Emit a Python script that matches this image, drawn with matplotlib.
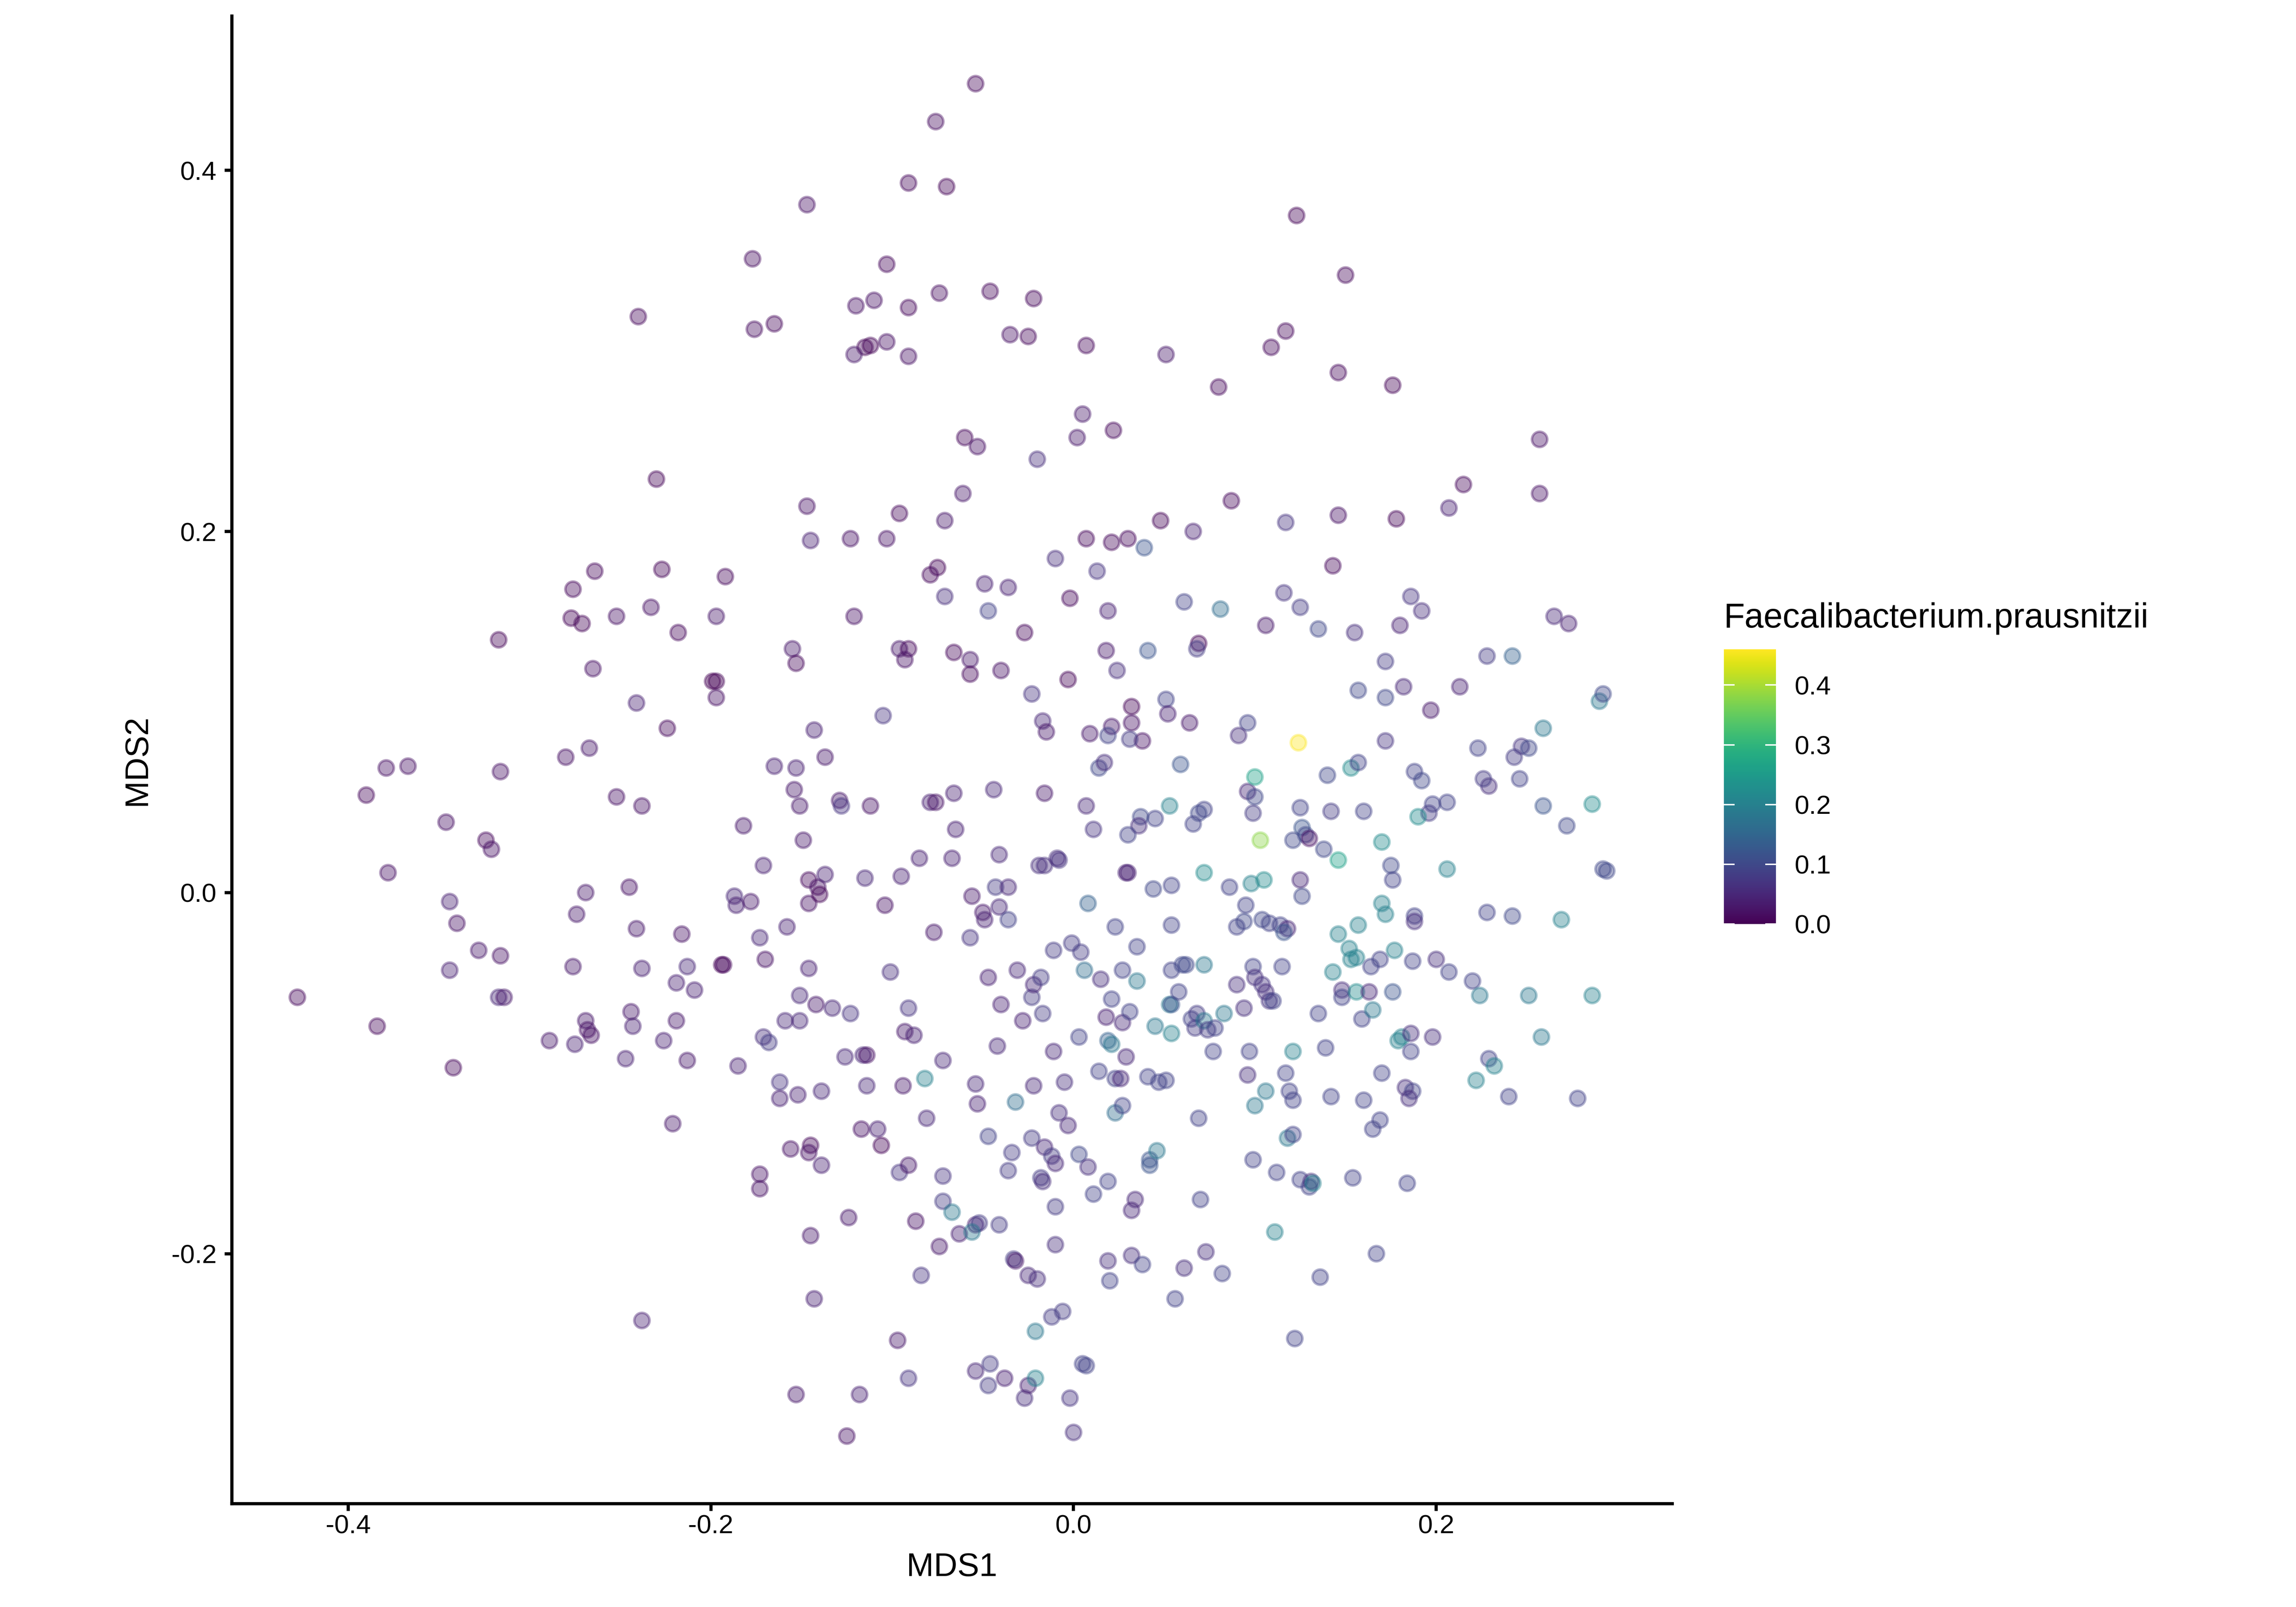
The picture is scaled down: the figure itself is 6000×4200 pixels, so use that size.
import matplotlib
matplotlib.use("Agg")
import matplotlib.pyplot as plt
import numpy as np
from matplotlib.colors import Normalize

plt.rcParams['font.family'] = ['Liberation Sans', 'DejaVu Sans']
plt.rcParams['axes.unicode_minus'] = False

mds1 = [
 -0.054,-0.076,-0.091,-0.070,-0.147,0.123,-0.103,-0.177,0.150,-0.046,
 -0.074,-0.110,-0.022,-0.120,-0.091,-0.240,-0.165,-0.176,0.117,0.109,
 -0.035,-0.025,-0.103,-0.112,-0.115,0.007,-0.121,-0.091,0.051,0.146,
 0.176,0.080,0.005,0.022,0.002,-0.060,-0.053,0.257,-0.020,0.215,
 0.257,-0.230,-0.061,0.087,-0.147,0.207,0.146,-0.096,-0.071,0.048,
 0.178,0.117,0.066,0.007,0.030,-0.145,-0.123,-0.103,0.021,0.039,
 -0.264,-0.227,-0.192,-0.075,-0.079,0.013,-0.010,-0.049,-0.036,0.143,
 -0.276,-0.277,-0.271,-0.252,-0.233,-0.197,-0.071,-0.002,0.019,-0.047,
 0.061,0.081,0.116,0.125,0.106,0.135,0.186,0.192,0.180,0.155,
 -0.121,-0.218,-0.317,-0.155,-0.153,-0.096,-0.091,-0.066,-0.057,-0.057,
 -0.093,-0.027,-0.040,0.018,0.041,0.024,0.069,0.068,0.172,0.228,
 0.242,0.265,0.273,0.157,0.172,0.182,0.213,0.197,-0.265,-0.241,
 -0.197,-0.197,-0.199,-0.105,-0.023,-0.003,0.051,0.052,0.032,0.032,
 0.021,-0.017,-0.015,0.019,0.038,0.031,0.064,0.096,0.091,0.124,
 0.140,0.153,0.157,0.172,0.188,0.192,0.223,0.229,0.226,0.247,
 0.243,0.246,0.251,0.259,0.290,0.292,0.286,0.272,0.259,0.292,
 0.294,0.269,0.228,0.242,0.206,0.206,0.198,0.196,0.190,0.170,
 0.175,0.176,0.170,0.160,0.142,0.125,0.126,0.128,0.130,0.121,
 0.138,0.146,0.125,0.126,0.096,0.100,0.100,0.099,0.103,0.086,
 0.098,0.105,0.072,0.095,0.104,0.114,0.118,0.116,0.094,0.053,
 0.059,0.072,0.069,0.066,0.045,0.037,0.036,0.030,0.011,-0.008,
 -0.016,0.029,0.044,0.009,0.014,0.017,
 -0.428,-0.384,-0.390,-0.379,-0.367,-0.378,-0.346,-0.344,-0.340,-0.344,
 -0.342,-0.324,-0.321,-0.316,-0.328,-0.316,-0.317,-0.314,-0.289,-0.280,
 -0.267,-0.269,-0.274,-0.276,-0.275,-0.269,-0.268,-0.266,-0.252,-0.238,
 -0.245,-0.241,-0.238,-0.244,-0.243,-0.247,-0.224,-0.226,-0.221,-0.238,
 -0.219,-0.219,-0.216,-0.213,-0.209,-0.213,-0.194,-0.193,-0.187,-0.186,
 -0.185,-0.182,-0.178,-0.173,-0.171,-0.171,-0.170,-0.173,-0.173,-0.168,
 -0.165,-0.162,-0.162,-0.158,-0.159,-0.156,-0.154,-0.153,-0.151,-0.149,
 -0.151,-0.151,-0.152,-0.153,-0.146,-0.146,-0.146,-0.145,-0.146,-0.145,
 -0.143,-0.143,-0.141,-0.140,-0.142,-0.139,-0.139,-0.137,-0.137,-0.133,
 -0.129,-0.128,-0.126,-0.125,-0.123,-0.124,-0.118,-0.117,-0.116,-0.114,
 -0.115,-0.114,-0.112,-0.108,-0.106,-0.104,-0.101,-0.097,-0.096,-0.095,
 -0.094,-0.093,-0.091,-0.091,-0.091,-0.088,-0.087,-0.085,-0.084,-0.081,
 -0.079,-0.076,-0.077,-0.074,-0.072,-0.072,-0.072,-0.082,-0.067,-0.067,
 -0.066,-0.065,-0.063,-0.057,-0.056,-0.054,-0.053,-0.054,-0.052,-0.056,
 -0.054,-0.050,-0.049,-0.047,-0.047,-0.046,-0.047,-0.044,-0.043,-0.042,
 -0.041,-0.041,-0.040,-0.041,-0.038,-0.036,-0.036,-0.036,-0.034,-0.033,
 -0.032,-0.032,-0.031,-0.028,-0.027,-0.025,-0.025,-0.023,-0.023,-0.022,
 -0.022,-0.021,-0.020,-0.021,-0.019,-0.018,-0.018,-0.017,-0.017,-0.016,
 -0.016,-0.012,-0.012,-0.011,-0.011,-0.010,-0.010,-0.010,-0.009,-0.008,
 -0.006,-0.005,-0.003,-0.002,-0.001,0.000,0.003,0.004,0.006,0.005,
 0.007,0.007,0.003,0.008,0.008,0.011,0.014,0.015,0.018,0.019,
 0.019,0.019,0.020,0.021,0.021,0.023,0.023,0.023,0.026,0.027,
 0.027,0.027,0.029,0.030,0.031,0.032,0.032,0.034,0.035,0.035,
 0.038,0.041,0.042,0.042,0.046,0.047,0.045,0.051,0.053,0.054,
 0.054,0.054,0.054,0.054,0.056,0.058,0.060,0.062,0.061,0.065,
 0.068,0.067,0.069,0.070,0.072,0.072,0.073,0.074,0.077,0.078,
 0.082,0.083,0.090,0.090,0.094,0.096,0.097,0.099,0.099,0.100,
 0.100,0.104,0.106,0.106,0.108,0.110,0.108,0.111,0.112,0.115,
 0.117,0.118,0.119,0.121,0.121,0.121,0.122,0.125,0.130,0.131,
 0.132,0.135,0.136,0.139,0.142,0.143,0.146,0.148,0.148,0.152,
 0.153,0.154,0.156,0.156,0.157,0.159,0.160,0.163,0.164,0.165,
 0.165,0.167,0.169,0.169,0.170,0.172,0.176,0.177,0.179,0.181,
 0.183,0.184,0.186,0.186,0.187,0.185,0.187,0.188,0.188,0.198,
 0.200,0.207,0.220,0.222,0.224,0.229,0.232,0.240,0.251,0.258,
 0.278,0.286,
]

mds2 = [
 0.448,0.427,0.393,0.391,0.381,0.375,0.348,0.351,0.342,0.333,
 0.332,0.328,0.329,0.325,0.324,0.319,0.315,0.312,0.311,0.302,
 0.309,0.308,0.305,0.303,0.302,0.303,0.298,0.297,0.298,0.288,
 0.281,0.280,0.265,0.256,0.252,0.252,0.247,0.251,0.240,0.226,
 0.221,0.229,0.221,0.217,0.214,0.213,0.209,0.210,0.206,0.206,
 0.207,0.205,0.200,0.196,0.196,0.195,0.196,0.196,0.194,0.191,
 0.178,0.179,0.175,0.180,0.176,0.178,0.185,0.171,0.169,0.181,
 0.168,0.152,0.149,0.153,0.158,0.153,0.164,0.163,0.156,0.156,
 0.161,0.157,0.166,0.158,0.148,0.146,0.164,0.156,0.148,0.144,
 0.153,0.144,0.140,0.135,0.127,0.135,0.135,0.133,0.129,0.121,
 0.129,0.144,0.123,0.134,0.134,0.123,0.138,0.135,0.128,0.131,
 0.131,0.153,0.149,0.112,0.108,0.114,0.114,0.101,0.124,0.105,
 0.117,0.108,0.117,0.098,0.110,0.118,0.107,0.099,0.103,0.094,
 0.092,0.095,0.089,0.087,0.084,0.085,0.094,0.094,0.087,0.083,
 0.065,0.069,0.072,0.084,0.067,0.062,0.080,0.059,0.063,0.081,
 0.075,0.063,0.080,0.091,0.106,0.110,0.049,0.037,0.048,0.013,
 0.012,-0.015,-0.011,-0.013,0.013,0.050,0.049,0.044,0.042,0.028,
 0.015,0.007,-0.006,0.045,0.045,0.047,0.036,0.032,0.030,0.029,
 0.024,0.018,0.007,-0.002,0.056,0.053,0.064,0.044,0.029,0.003,
 0.005,0.007,0.011,-0.007,-0.015,-0.018,-0.020,-0.022,-0.016,0.048,
 0.071,0.046,0.044,0.038,0.041,0.042,0.037,0.032,0.035,0.018,
 0.015,0.011,0.002,0.088,0.069,0.072,
 -0.058,-0.074,0.054,0.069,0.070,0.011,0.039,-0.005,-0.017,-0.043,
 -0.097,0.029,0.024,0.067,-0.032,-0.035,-0.058,-0.058,-0.082,0.075,
 0.080,0.000,-0.012,-0.041,-0.084,-0.071,-0.076,-0.079,0.053,0.048,
 0.003,-0.020,-0.042,-0.066,-0.074,-0.092,0.091,-0.082,-0.128,-0.237,
 -0.050,-0.071,-0.023,-0.041,-0.054,-0.093,-0.040,-0.040,-0.002,-0.007,
 -0.096,0.037,-0.005,-0.025,0.015,-0.080,-0.037,-0.156,-0.164,-0.083,
 0.070,-0.105,-0.114,-0.019,-0.071,-0.142,0.057,0.069,0.048,0.029,
 -0.057,-0.071,-0.112,-0.278,-0.042,-0.006,0.007,-0.140,-0.144,-0.190,
 -0.225,0.090,0.003,-0.001,-0.062,-0.110,-0.151,0.075,0.010,-0.064,
 0.051,0.048,-0.091,-0.301,-0.067,-0.180,-0.278,-0.131,-0.090,-0.090,
 0.008,-0.107,0.048,-0.131,-0.140,-0.007,-0.044,-0.248,-0.155,0.009,
 -0.107,-0.077,-0.064,-0.151,-0.269,-0.079,-0.182,0.019,-0.212,-0.125,
 0.050,0.050,-0.022,-0.196,-0.093,-0.157,-0.171,-0.103,0.019,-0.177,
 0.055,0.035,-0.189,-0.025,-0.002,-0.106,-0.117,-0.184,-0.183,-0.188,
 -0.265,-0.011,-0.015,-0.047,-0.135,-0.261,-0.273,0.057,0.003,-0.085,
 0.021,-0.008,-0.062,-0.184,-0.269,0.003,-0.154,-0.015,-0.144,-0.203,
 -0.204,-0.116,-0.043,-0.071,-0.280,-0.273,-0.212,-0.058,-0.136,-0.107,
 -0.051,-0.269,-0.214,-0.243,0.015,-0.158,-0.047,-0.067,-0.160,-0.141,
 0.055,-0.146,-0.235,-0.032,-0.088,-0.195,-0.150,-0.174,0.019,-0.122,
 -0.232,-0.105,-0.129,-0.280,-0.028,-0.299,-0.145,-0.033,-0.043,-0.261,
 -0.262,0.048,-0.080,-0.152,-0.006,-0.167,-0.099,-0.048,-0.069,-0.204,
 -0.082,-0.160,-0.215,-0.084,-0.059,-0.019,-0.103,-0.122,-0.103,-0.072,
 -0.118,-0.043,-0.091,0.011,-0.066,-0.176,-0.201,-0.170,-0.049,-0.030,
 -0.206,-0.102,-0.151,-0.148,-0.143,-0.105,-0.074,-0.104,-0.062,-0.078,
 -0.062,-0.043,0.004,-0.018,-0.225,-0.055,-0.040,-0.040,-0.208,-0.070,
 -0.067,-0.075,-0.125,-0.170,-0.040,-0.071,-0.199,-0.076,-0.088,-0.075,
 -0.211,-0.067,-0.019,-0.051,-0.064,-0.101,-0.088,-0.041,-0.148,-0.047,
 -0.118,-0.051,-0.055,-0.110,-0.060,-0.060,-0.017,-0.188,-0.155,-0.041,
 -0.100,-0.136,-0.110,-0.115,-0.088,-0.134,-0.247,-0.159,-0.163,-0.160,
 -0.161,-0.067,-0.213,-0.086,-0.113,-0.044,-0.023,-0.054,-0.058,-0.031,
 -0.037,-0.158,-0.055,-0.036,-0.018,-0.070,-0.115,-0.055,-0.041,-0.065,
 -0.131,-0.200,-0.037,-0.126,-0.100,-0.012,-0.055,-0.032,-0.082,-0.080,
 -0.108,-0.161,-0.078,-0.088,-0.110,-0.114,-0.038,-0.013,-0.016,-0.080,
 -0.037,-0.044,-0.049,-0.104,-0.057,-0.092,-0.096,-0.113,-0.057,-0.080,
 -0.114,-0.057,
]

f_prausnitzii = [
 0.010,0.015,0.010,0.005,0.020,0.005,0.010,0.015,0.010,0.010,
 0.015,0.020,0.010,0.020,0.010,0.010,0.010,0.015,0.010,0.010,
 0.020,0.010,0.020,0.005,0.005,0.010,0.030,0.020,0.030,0.010,
 0.005,0.010,0.030,0.010,0.030,0.010,0.020,0.020,0.060,0.010,
 0.020,0.005,0.030,0.010,0.020,0.040,0.020,0.010,0.030,0.005,
 0.005,0.070,0.040,0.010,0.010,0.040,0.020,0.020,0.010,0.120,
 0.010,0.005,0.010,0.005,0.010,0.070,0.060,0.040,0.040,0.010,
 0.010,0.005,0.005,0.020,0.020,0.030,0.060,0.010,0.040,0.090,
 0.090,0.160,0.070,0.080,0.030,0.100,0.070,0.060,0.040,0.060,
 0.020,0.010,0.005,0.030,0.010,0.030,0.010,0.010,0.030,0.010,
 0.020,0.010,0.020,0.030,0.120,0.060,0.005,0.080,0.080,0.080,
 0.140,0.050,0.040,0.100,0.100,0.050,0.040,0.030,0.020,0.040,
 0.005,0.020,0.000,0.070,0.070,0.005,0.090,0.040,0.005,0.020,
 0.030,0.050,0.030,0.090,0.020,0.080,0.030,0.090,0.060,0.460,
 0.100,0.220,0.090,0.070,0.090,0.100,0.090,0.060,0.080,0.070,
 0.080,0.090,0.100,0.180,0.180,0.100,0.220,0.100,0.120,0.100,
 0.100,0.200,0.090,0.100,0.200,0.090,0.090,0.080,0.220,0.220,
 0.100,0.090,0.200,0.090,0.080,0.090,0.120,0.100,0.020,0.100,
 0.100,0.260,0.050,0.100,0.050,0.100,0.260,0.080,0.380,0.090,
 0.200,0.220,0.220,0.090,0.100,0.090,0.050,0.120,0.100,0.200,
 0.120,0.090,0.100,0.090,0.090,0.100,0.060,0.090,0.070,0.070,
 0.060,0.040,0.100,0.030,0.100,0.060,
 0.010,0.010,0.010,0.020,0.020,0.020,0.020,0.040,0.020,0.040,
 0.010,0.010,0.020,0.020,0.030,0.020,0.050,0.030,0.030,0.020,
 0.030,0.030,0.030,0.030,0.040,0.030,0.020,0.020,0.020,0.020,
 0.020,0.030,0.040,0.030,0.040,0.040,0.010,0.040,0.030,0.040,
 0.040,0.030,0.020,0.050,0.040,0.030,0.005,0.010,0.050,0.040,
 0.040,0.030,0.030,0.050,0.040,0.060,0.020,0.020,0.020,0.080,
 0.040,0.070,0.040,0.040,0.050,0.020,0.030,0.040,0.030,0.030,
 0.050,0.050,0.040,0.030,0.040,0.020,0.010,0.010,0.020,0.030,
 0.040,0.040,0.020,0.005,0.030,0.050,0.040,0.030,0.040,0.050,
 0.030,0.070,0.050,0.020,0.070,0.030,0.040,0.020,0.050,0.020,
 0.050,0.050,0.020,0.040,0.005,0.020,0.060,0.030,0.070,0.040,
 0.030,0.030,0.070,0.030,0.070,0.040,0.020,0.040,0.070,0.050,
 0.040,0.020,0.030,0.030,0.050,0.070,0.080,0.200,0.040,0.180,
 0.040,0.040,0.040,0.070,0.030,0.050,0.040,0.040,0.080,0.180,
 0.050,0.030,0.040,0.040,0.090,0.080,0.080,0.050,0.080,0.050,
 0.050,0.050,0.040,0.080,0.040,0.050,0.080,0.090,0.080,0.080,
 0.030,0.160,0.050,0.040,0.060,0.040,0.050,0.080,0.080,0.050,
 0.050,0.200,0.060,0.180,0.060,0.080,0.080,0.080,0.060,0.050,
 0.030,0.080,0.080,0.080,0.050,0.060,0.050,0.080,0.060,0.060,
 0.080,0.060,0.050,0.070,0.080,0.060,0.100,0.080,0.160,0.090,
 0.090,0.050,0.090,0.060,0.140,0.090,0.090,0.060,0.040,0.060,
 0.140,0.090,0.090,0.180,0.090,0.090,0.090,0.160,0.050,0.050,
 0.090,0.090,0.050,0.040,0.090,0.050,0.060,0.050,0.180,0.090,
 0.090,0.090,0.120,0.120,0.180,0.090,0.180,0.090,0.180,0.200,
 0.120,0.090,0.090,0.090,0.090,0.090,0.100,0.100,0.060,0.090,
 0.080,0.080,0.090,0.090,0.180,0.180,0.060,0.080,0.090,0.090,
 0.090,0.180,0.090,0.060,0.060,0.060,0.090,0.090,0.090,0.060,
 0.180,0.070,0.060,0.180,0.070,0.090,0.090,0.200,0.090,0.090,
 0.090,0.180,0.090,0.090,0.200,0.090,0.090,0.090,0.090,0.060,
 0.200,0.090,0.090,0.090,0.090,0.200,0.200,0.060,0.090,0.200,
 0.200,0.090,0.220,0.200,0.200,0.090,0.090,0.050,0.090,0.180,
 0.090,0.090,0.090,0.090,0.090,0.200,0.120,0.200,0.200,0.200,
 0.060,0.090,0.060,0.090,0.090,0.060,0.090,0.090,0.060,0.060,
 0.060,0.090,0.090,0.200,0.180,0.090,0.200,0.090,0.180,0.180,
 0.090,0.200,
]

x = np.array(mds1)
y = np.array(mds2)
v = np.array(f_prausnitzii)

fig = plt.figure(figsize=(20, 14), dpi=300)
ax = fig.add_axes([0.101, 0.0643, 0.6273, 0.9257])

norm = Normalize(vmin=v.min(), vmax=v.max())
sc = ax.scatter(x, y, c=v, cmap='viridis', norm=norm, s=92, alpha=0.4,
                edgecolors='face', linewidths=1.6, zorder=3)

def padded(a, f=0.05):
    r = a.max() - a.min()
    return a.min() - f * r, a.max() + f * r

ax.set_xlim(*padded(x))
ax.set_ylim(*padded(y))

ax.set_xticks([-0.4, -0.2, 0.0, 0.2])
ax.set_yticks([-0.2, 0.0, 0.2, 0.4])
ax.set_xticklabels(['-0.4', '-0.2', '0.0', '0.2'])
ax.set_yticklabels(['-0.2', '0.0', '0.2', '0.4'])

for s in ['top', 'right']:
    ax.spines[s].set_visible(False)
for s in ['left', 'bottom']:
    ax.spines[s].set_linewidth(2.0)
    ax.spines[s].set_color('black')

ax.tick_params(axis='both', direction='out', length=4.6, width=2.0,
               colors='black', labelsize=16.5)
ax.tick_params(axis='x', pad=2.0)
ax.tick_params(axis='y', pad=5.0)

ax.set_xlabel('MDS1', fontsize=20.5)
ax.set_ylabel('MDS2', fontsize=20.5)
ax.xaxis.label.set_va('center')
ax.yaxis.label.set_va('center')
ax.yaxis.label.set_ha('center')
ax.xaxis.set_label_coords(0.5, (0.0245 - 0.0643) / 0.9257)
ax.yaxis.set_label_coords((0.0598 - 0.101) / 0.6273, 0.5)

# colourbar
cax = fig.add_axes([0.7508, 0.425, 0.0227, 0.171])
cb = fig.colorbar(plt.cm.ScalarMappable(norm=norm, cmap='viridis'), cax=cax)
cb.outline.set_visible(False)
cb.set_ticks([0.0, 0.1, 0.2, 0.3, 0.4])
cb.set_ticklabels(['0.0', '0.1', '0.2', '0.3', '0.4'])
cax.tick_params(which='both', direction='in', colors='white', length=6.7,
                width=0.9, left=True, right=True, labelleft=False,
                labelright=True, labelcolor='black', labelsize=16.5, pad=11.5)
cax.minorticks_off()
fig.text(0.7508, 1 - 1640 / 4200, 'Faecalibacterium.prausnitzii',
         fontsize=21.5, ha='left', va='baseline', color='black')

fig.savefig('out.png', dpi=300, facecolor='white')
